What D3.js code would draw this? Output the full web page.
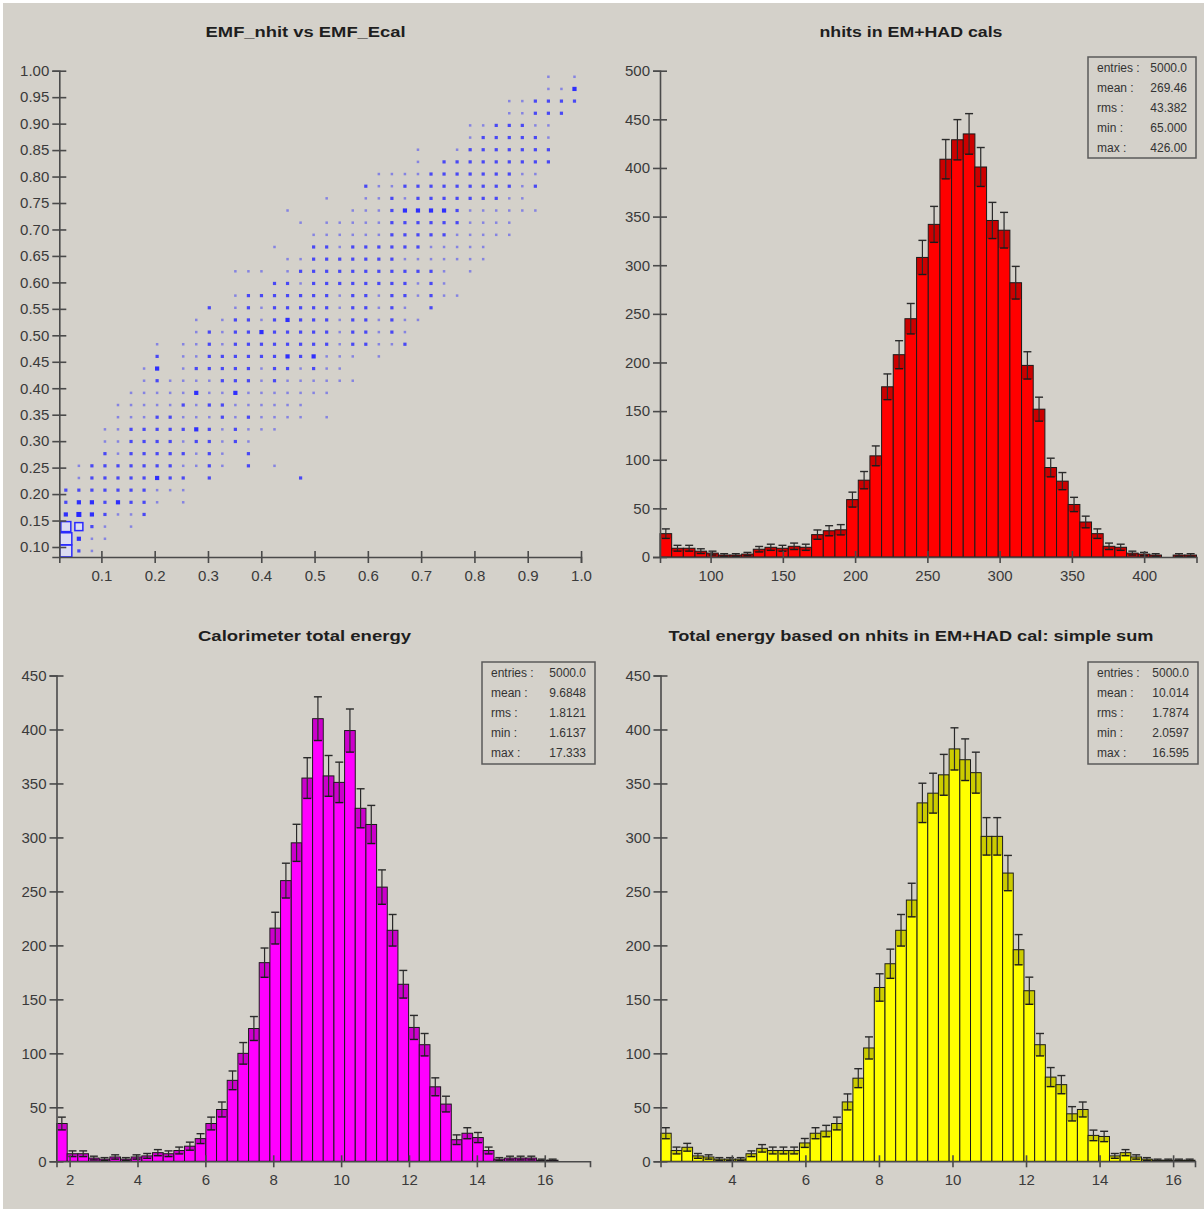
<!DOCTYPE html>
<html>
<head>
  <meta charset="utf-8">
  <title>JAS plots</title>
  <style type="text/css">
    body{margin:0;background:#fff;}
    svg{display:block;}
  </style>
</head>
<body>
<div id='graph-container'></div>
<script src="https://d3js.org/d3.v7.min.js"></script>
<script type="text/javascript">

// ---- data ----

// EMF_nhit vs EMF_Ecal : 40x40 box plot, row 0 is the bottom row, one digit per column (box size level)
var scatterRows = [
  "9210000000 0000000000 0000000000 0000000000",
  "9311000000 0000000000 0000000000 0000000000",
  "8621010000 0000000000 0000000000 0000000000",
  "3432112000 0000000000 0000000000 0000000000",
  "2332322101 0000000000 0000000000 0000000000",
  "2222222111 0000000000 0000000000 0000000000",
  "0122222322 0200000020 0000000000 0000000000",
  "0122222221 1210201000 0000000000 0000000000",
  "0002122222 1210200000 0000000000 0000000000",
  "0001122221 2212100000 0000000000 0000000000",
  "0001122222 3212111000 0000000000 0000000000",
  "0000111221 1121211110 1000000000 0000000000",
  "0000111112 1221111110 0000000000 0000000000",
  "0000011111 3113111111 1000000000 0000000000",
  "0000001211 1122212111 1110000000 0000000000",
  "0000001301 2222212212 1100000000 0000000000",
  "0000000201 1222222323 1110100000 0000000000",
  "0000000101 1212222222 2122112000 0000000000",
  "0000000000 1212232222 2122121000 0000000000",
  "0000000000 1012212322 2122121100 0000000000",
  "0000000000 0201212222 2122121020 0000000000",
  "0000000000 0001222222 2122122121 1000000000",
  "0000000000 0000002212 2222222121 0000000000",
  "0000000000 0001110122 2222222221 0100000000",
  "0000000000 0000000112 2222221111 1110000000",
  "0000000000 0000001002 2122222211 1110000000",
  "0000000000 0000000001 1111122222 1111100000",
  "0000000000 0000000010 1111122222 2111100000",
  "0000000000 0000000100 0011123333 2111111000",
  "0000000000 0000000000 1001121222 2222110000",
  "0000000000 0000000000 0002112222 2222212000",
  "0000000000 0000000000 0000111122 2222211000",
  "0000000000 0000000000 0000000102 2222222200",
  "0000000000 0000000000 0000000100 1222222200",
  "0000000000 0000000000 0000000000 0122222100",
  "0000000000 0000000000 0000000000 0112221100",
  "0000000000 0000000000 0000000000 0000112220",
  "0000000000 0000000000 0000000000 0000112222",
  "0000000000 0000000000 0000000000 0000000113",
  "0000000000 0000000000 0000000000 0000000101"
];
var scatterXRange = [0.021, 1.0];
var scatterYRange = [0.0811, 1.0];
var scatterXTicks = [0.1, 0.2, 0.3, 0.4, 0.5, 0.6, 0.7, 0.8, 0.9, 1.0];
var scatterYTicks = [0.10, 0.15, 0.20, 0.25, 0.30, 0.35, 0.40, 0.45, 0.50, 0.55,
                     0.60, 0.65, 0.70, 0.75, 0.80, 0.85, 0.90, 0.95, 1.00];

// nhits in EM+HAD cals
var nhitsCounts = [24, 9, 9, 6, 4, 2, 2, 3, 8, 10, 9, 11, 10, 23, 27, 28, 59, 79, 104, 175,
                   208, 245, 308, 342, 409, 429, 435, 401, 346, 336, 282, 197, 152, 92, 78, 54,
                   36, 24, 11, 10, 4, 3, 2, 0, 2, 2];
var nhitsStart = 65, nhitsBinWidth = 8.07;
var nhitsXTicks = [100, 150, 200, 250, 300, 350, 400];
var nhitsYTicks = [0, 50, 100, 150, 200, 250, 300, 350, 400, 450, 500];
var nhitsStats = ['5000.0', '269.46', '43.382', '65.000', '426.00'];

// Calorimeter total energy
var ecalCounts = [35, 7, 7, 3, 2, 4, 2, 4, 5, 8, 7, 10, 14, 21, 35, 48, 75, 100, 123, 184,
                  216, 260, 295, 355, 410, 357, 351, 399, 327, 312, 254, 214, 164, 124, 108, 69,
                  53, 20, 26, 22, 10, 2, 3, 3, 3, 1, 1, 0, 0, 0];
var ecalRange = [1.6137, 17.333];
var ecalXTicks = [2, 4, 6, 8, 10, 12, 14, 16];
var ecalStats = ['5000.0', '9.6848', '1.8121', '1.6137', '17.333'];

// Total energy based on nhits in EM+HAD cal: simple sum
var esumCounts = [26, 10, 13, 5, 4, 2, 2, 2, 7, 12, 10, 10, 10, 17, 26, 28, 35, 55, 77, 105,
                  161, 183, 214, 242, 332, 341, 358, 382, 372, 360, 301, 301, 267, 196, 158, 108,
                  78, 71, 44, 48, 24, 23, 5, 8, 4, 2, 1, 1, 1, 1];
var esumRange = [2.0597, 16.595];
var esumXTicks = [4, 6, 8, 10, 12, 14, 16];
var esumStats = ['5000.0', '10.014', '1.7874', '2.0597', '16.595'];

var energyYTicks = [0, 50, 100, 150, 200, 250, 300, 350, 400, 450];
var statLabels = ['entries :', 'mean :', 'rms :', 'min :', 'max :'];
var titles = ['EMF_nhit vs EMF_Ecal', 'nhits in EM+HAD cals',
              'Calorimeter total energy', 'Total energy based on nhits in EM+HAD cal: simple sum'];

// ---- drawing ----

var fontFamily = '"Liberation Sans", Arial, Helvetica, sans-serif';
var axisColor = '#4a4a4a';
var textColor = '#3a3a3a';

var svg = d3.select('#graph-container').append('svg')
  .attr('width', 1204)
  .attr('height', 1209)
svg.append('rect')
  .attr('x', 3).attr('y', 3)
  .attr('width', 1201).attr('height', 1206)
  .attr('fill', '#d4d1ca')

function drawTitle(text, cx, y, len){
  svg.append('text')
    .attr('x', cx)
    .attr('y', y)
    .attr('text-anchor', 'middle')
    .attr('font-family', fontFamily)
    .attr('font-weight', 'bold')
    .attr('font-size', 15)
    .attr('fill', '#1e1e1e')
    .attr('textLength', len)
    .attr('lengthAdjust', 'spacingAndGlyphs')
    .text(text)
}

function drawAxes(xs, ys, xTicks, yTicks, xFmt, yFmt){
  var baseY = ys.range()[0]
  var baseX = xs.range()[0]
  var gx = svg.append('g')
    .attr('transform', `translate(0,${baseY})`)
    .call(d3.axisBottom(xs).tickValues(xTicks).tickFormat(xFmt).tickSizeOuter(0).tickSize(6))
  var gy = svg.append('g')
    .attr('transform', `translate(${baseX},0)`)
    .call(d3.axisLeft(ys).tickValues(yTicks).tickFormat(yFmt).tickSizeOuter(0).tickSize(7))
  ;[gx, gy].forEach((g)=>{
    g.attr('font-family', fontFamily).attr('font-size', 15)
    g.select('.domain').attr('stroke', axisColor).attr('stroke-width', 1.6)
    g.selectAll('.tick line').attr('stroke', axisColor).attr('stroke-width', 1.6)
    g.selectAll('.tick text').attr('fill', textColor)
  })
  gx.selectAll('.tick line').attr('y1', -6).attr('y2', 6)
  gx.selectAll('.tick text').attr('y', 13)
  gy.selectAll('.tick line').attr('x1', -7).attr('x2', 7)
  gy.selectAll('.tick text').attr('x', -10)
}

function drawStats(x, y, w, h, values){
  svg.append('rect')
    .attr('x', x).attr('y', y)
    .attr('width', w).attr('height', h)
    .attr('fill', 'none')
    .attr('stroke', '#5a5a5a')
    .attr('stroke-width', 1.5)
  statLabels.forEach((lab, i)=>{
    var ty = y + 15 + i*20
    svg.append('text')
      .attr('x', x + 9).attr('y', ty)
      .attr('font-family', fontFamily).attr('font-size', 12)
      .attr('fill', '#333')
      .text(lab)
    svg.append('text')
      .attr('x', x + w - 9).attr('y', ty)
      .attr('text-anchor', 'end')
      .attr('font-family', fontFamily).attr('font-size', 12)
      .attr('fill', '#333')
      .text(values[i])
  })
}

function drawHist(counts, start, binW, xs, ys, fill){
  var bins = counts.map((n, k)=>{return {n:n, x0:start + k*binW, x1:start + (k+1)*binW}})
  var g = svg.append('g')
  var filled = bins.filter((d)=>{return d.n > 0})
  g.selectAll('rect.bar')
    .data(filled)
    .enter()
    .append('rect')
    .attr('class', 'bar')
    .attr('x', (d)=>{return xs(d.x0)})
    .attr('width', (d)=>{return xs(d.x1) - xs(d.x0)})
    .attr('y', (d)=>{return ys(d.n)})
    .attr('height', (d)=>{return ys(0) - ys(d.n)})
    .attr('fill', fill)
    .attr('stroke', '#1c1c1c')
    .attr('stroke-width', 1)
  // darker band between N-sqrt(N) and N
  g.selectAll('rect.band')
    .data(filled)
    .enter()
    .append('rect')
    .attr('class', 'band')
    .attr('x', (d)=>{return xs(d.x0) + 0.5})
    .attr('width', (d)=>{return xs(d.x1) - xs(d.x0) - 1})
    .attr('y', (d)=>{return ys(d.n)})
    .attr('height', (d)=>{return ys(Math.max(0, d.n - Math.sqrt(d.n))) - ys(d.n)})
    .attr('fill', '#000')
    .attr('fill-opacity', 0.2)
  var cx = (d)=>{return (xs(d.x0) + xs(d.x1))/2}
  g.selectAll('line.err')
    .data(filled)
    .enter()
    .append('line')
    .attr('class', 'err')
    .attr('x1', cx).attr('x2', cx)
    .attr('y1', (d)=>{return ys(d.n + Math.sqrt(d.n))})
    .attr('y2', (d)=>{return ys(Math.max(0, d.n - Math.sqrt(d.n)))})
    .attr('stroke', '#2a2a2a')
    .attr('stroke-width', 1.2)
  g.selectAll('line.capTop')
    .data(filled)
    .enter()
    .append('line')
    .attr('class', 'capTop')
    .attr('x1', (d)=>{return cx(d) - 4}).attr('x2', (d)=>{return cx(d) + 4})
    .attr('y1', (d)=>{return ys(d.n + Math.sqrt(d.n))})
    .attr('y2', (d)=>{return ys(d.n + Math.sqrt(d.n))})
    .attr('stroke', '#2a2a2a')
    .attr('stroke-width', 1.4)
  g.selectAll('line.capBot')
    .data(filled)
    .enter()
    .append('line')
    .attr('class', 'capBot')
    .attr('x1', (d)=>{return cx(d) - 4}).attr('x2', (d)=>{return cx(d) + 4})
    .attr('y1', (d)=>{return ys(Math.max(0, d.n - Math.sqrt(d.n)))})
    .attr('y2', (d)=>{return ys(Math.max(0, d.n - Math.sqrt(d.n)))})
    .attr('stroke', '#1a1a1a')
    .attr('stroke-width', 1.4)
}

// panel 1 : box plot
var xs1 = d3.scaleLinear().domain(scatterXRange).range([59.3, 581])
var ys1 = d3.scaleLinear().domain(scatterYRange).range([557, 70.7])
var nCols = 40, nRows = scatterRows.length
var bw = (scatterXRange[1] - scatterXRange[0])/nCols
var bh = (scatterYRange[1] - scatterYRange[0])/nRows
var cells = []
scatterRows.forEach((row, j)=>{
  row.replace(/ /g, '').split('').forEach((c, i)=>{
    var lvl = +c
    if(lvl > 0){
      cells.push({
        lvl:lvl,
        x:scatterXRange[0] + (i + 0.5)*bw,
        y:scatterYRange[0] + (j + 0.5)*bh
      })
    }
  })
})
var boxSize = [0, 2.5, 3.2, 4.2, 5, 6, 8, 9, 10, 12]
var boxAlpha = [0, 0.45, 0.8, 0.95, 1, 1, 1, 1, 1, 1]
svg.append('g').selectAll('rect')
  .data(cells)
  .enter()
  .append('rect')
  .attr('x', (d)=>{return xs1(d.x) - boxSize[d.lvl]/2})
  .attr('y', (d)=>{return ys1(d.y) - boxSize[d.lvl]/2})
  .attr('width', (d)=>{return boxSize[d.lvl]})
  .attr('height', (d)=>{return boxSize[d.lvl]})
  .attr('fill', (d)=>{return d.lvl >= 5 ? '#dcdcf2' : '#2626ff'})
  .attr('fill-opacity', (d)=>{return boxAlpha[d.lvl]})
  .attr('stroke', (d)=>{return d.lvl >= 5 ? '#2a2aff' : 'none'})
  .attr('stroke-width', 1.5)
drawAxes(xs1, ys1, scatterXTicks, scatterYTicks, d3.format('.1f'), d3.format('.2f'))
drawTitle(titles[0], 305.6, 37, 200)

// panel 2 : nhits
var xs2 = d3.scaleLinear().domain([nhitsStart, nhitsStart + nhitsCounts.length*nhitsBinWidth]).range([660, 1196.5])
var ys2 = d3.scaleLinear().domain([0, 500]).range([557, 70.7])
drawHist(nhitsCounts, nhitsStart, nhitsBinWidth, xs2, ys2, '#ff0000')
drawAxes(xs2, ys2, nhitsXTicks, nhitsYTicks, d3.format('d'), d3.format('d'))
drawTitle(titles[1], 911, 37, 183)
drawStats(1088, 57, 108, 101, nhitsStats)

// panel 3 : calorimeter energy
var ecalW = (ecalRange[1] - ecalRange[0])/ecalCounts.length
var xs3 = d3.scaleLinear().domain(ecalRange).range([56.5, 590])
var ys3 = d3.scaleLinear().domain([0, 450]).range([1161.3, 675.5])
drawHist(ecalCounts, ecalRange[0], ecalW, xs3, ys3, '#ff00ff')
drawAxes(xs3, ys3, ecalXTicks, energyYTicks, d3.format('d'), d3.format('d'))
drawTitle(titles[2], 304.5, 641, 213)
drawStats(482, 662, 113, 102, ecalStats)

// panel 4 : simple sum energy
var esumW = (esumRange[1] - esumRange[0])/esumCounts.length
var xs4 = d3.scaleLinear().domain(esumRange).range([660.5, 1195])
var ys4 = d3.scaleLinear().domain([0, 450]).range([1161.3, 675.5])
drawHist(esumCounts, esumRange[0], esumW, xs4, ys4, '#ffff00')
drawAxes(xs4, ys4, esumXTicks, energyYTicks, d3.format('d'), d3.format('d'))
drawTitle(titles[3], 911, 641, 485)
drawStats(1088, 662, 110, 102, esumStats)

</script>
</body>
</html>
